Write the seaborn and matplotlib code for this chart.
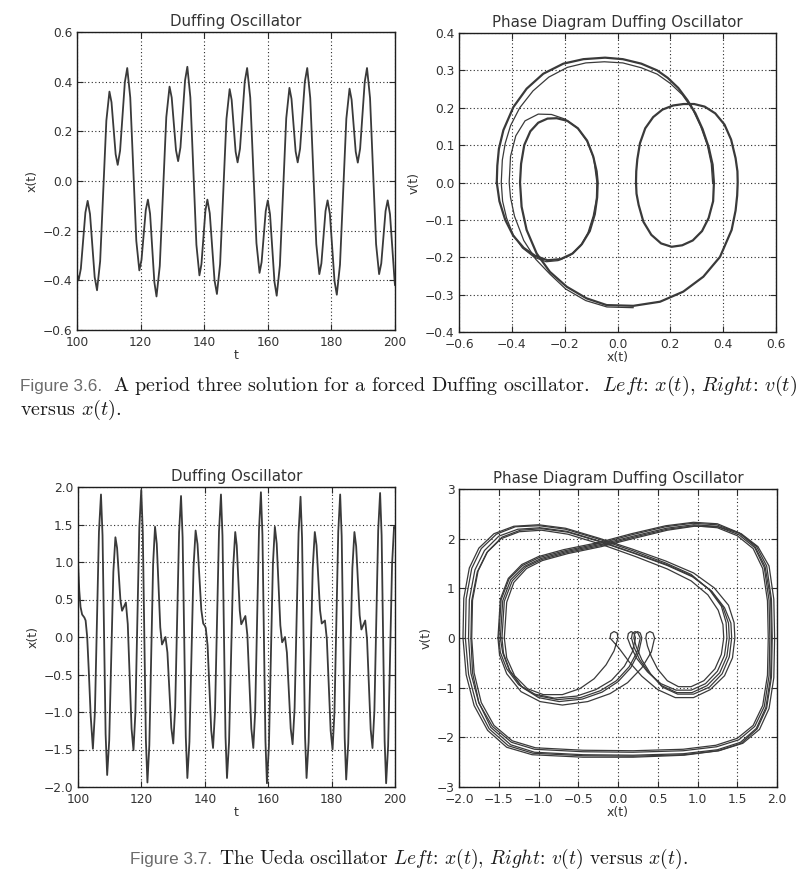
import matplotlib
matplotlib.use("Agg")
import matplotlib.pyplot as plt
import matplotlib.ticker as mticker
import numpy as np
import pandas as pd
import seaborn as sns

# ---------------- data ----------------
# Fig 3.6 left: x(t) of the period-three Duffing solution, (t, x) pairs
duff_tx = [
    (100.0, -0.375), (100.5, -0.40), (101.21, -0.353), (101.93, -0.24), (102.64, -0.127),
    (103.35, -0.08), (104.09, -0.133), (104.83, -0.26), (105.56, -0.387),
    (106.3, -0.44), (107.28, -0.323), (108.25, -0.04), (109.23, 0.243),
    (110.2, 0.36), (110.85, 0.317), (111.5, 0.2125), (112.15, 0.108),
    (112.8, 0.065), (113.55, 0.122), (114.3, 0.26), (115.05, 0.398),
    (115.8, 0.455), (116.75, 0.336), (117.7, 0.0475), (118.65, -0.241),
    (119.6, -0.36), (120.28, -0.318), (120.95, -0.2175), (121.63, -0.117),
    (122.3, -0.075), (122.98, -0.132), (123.65, -0.27), (124.33, -0.408),
    (125.0, -0.465), (126.03, -0.342), (127.05, -0.0425), (128.08, 0.257),
    (129.1, 0.38), (129.78, 0.336), (130.45, 0.23), (131.13, 0.124),
    (131.8, 0.08), (132.53, 0.135), (133.25, 0.27), (133.98, 0.405),
    (134.7, 0.46), (135.65, 0.337), (136.6, 0.04), (137.55, -0.257),
    (138.5, -0.38), (139.13, -0.335), (139.75, -0.2275), (140.38, -0.12),
    (141.0, -0.075), (141.75, -0.13), (142.5, -0.265), (143.25, -0.40),
    (144.0, -0.455), (145.0, -0.335), (146.0, -0.0425), (147.0, 0.25),
    (148.0, 0.37), (148.63, 0.327), (149.25, 0.2225), (149.88, 0.118),
    (150.5, 0.075), (151.25, 0.13), (152.0, 0.265), (152.75, 0.40),
    (153.5, 0.455), (154.48, 0.335), (155.45, 0.0425), (156.43, -0.25),
    (157.4, -0.37), (158.05, -0.327), (158.7, -0.224), (159.35, -0.121),
    (160.0, -0.078), (160.7, -0.134), (161.4, -0.27), (162.1, -0.406),
    (162.8, -0.462), (163.8, -0.34), (164.8, -0.0435), (165.8, 0.253),
    (166.8, 0.375), (167.45, 0.331), (168.1, 0.225), (168.75, 0.119),
    (169.4, 0.075), (170.15, 0.13), (170.9, 0.265), (171.65, 0.40),
    (172.4, 0.455), (173.35, 0.334), (174.3, 0.04), (175.25, -0.254),
    (176.2, -0.375), (176.85, -0.332), (177.5, -0.2265), (178.15, -0.121),
    (178.8, -0.078), (179.53, -0.133), (180.25, -0.268), (180.98, -0.403),
    (181.7, -0.458), (182.7, -0.337), (183.7, -0.043), (184.7, 0.251),
    (185.7, 0.372), (186.35, 0.328), (187.0, 0.223), (187.65, 0.118),
    (188.3, 0.074), (189.03, 0.13), (189.75, 0.2645), (190.48, 0.399),
    (191.2, 0.455), (192.15, 0.334), (193.1, 0.04), (194.05, -0.254),
    (195.0, -0.375), (195.68, -0.332), (196.35, -0.2265), (197.03, -0.121),
    (197.7, -0.078), (198.43, -0.134), (199.15, -0.269), (199.88, -0.404),
    (200.0, -0.42),
]

# Fig 3.6 right: v(t) versus x(t), one period-three orbit, (x, v) pairs
duff_orbit = [
    (-0.457, 0.0), (-0.455, 0.045), (-0.449, 0.09), (-0.432, 0.14), (-0.394, 0.202), (-0.344, 0.251),
    (-0.281, 0.291), (-0.205, 0.318), (-0.129, 0.330), (-0.047, 0.334), (0.02, 0.330),
    (0.09, 0.318), (0.15, 0.30), (0.19, 0.28), (0.23, 0.253), (0.265, 0.22),
    (0.295, 0.185), (0.322, 0.143), (0.345, 0.095), (0.36, 0.048), (0.365, 0.0),
    (0.362, -0.05), (0.345, -0.095), (0.32, -0.13), (0.285, -0.155), (0.245, -0.168),
    (0.205, -0.172), (0.165, -0.163), (0.128, -0.14), (0.098, -0.105), (0.08, -0.06),
    (0.072, -0.03), (0.07, 0.0),
    (0.071, 0.03), (0.075, 0.062), (0.085, 0.105), (0.105, 0.145), (0.135, 0.175), (0.17, 0.195),
    (0.21, 0.206), (0.25, 0.21), (0.29, 0.21), (0.33, 0.203), (0.37, 0.185),
    (0.405, 0.155), (0.43, 0.115), (0.447, 0.065), (0.454, 0.03), (0.455, 0.0),
    (0.453, -0.035), (0.447, -0.075), (0.432, -0.127), (0.388, -0.199), (0.325, -0.252), (0.249, -0.292),
    (0.161, -0.319), (0.06, -0.33), (-0.041, -0.328), (-0.117, -0.31), (-0.192, -0.279),
    (-0.256, -0.239), (-0.306, -0.19), (-0.344, -0.127), (-0.363, -0.065), (-0.369, 0.0),
    (-0.365, 0.05), (-0.353, 0.1), (-0.33, 0.137), (-0.30, 0.16), (-0.265, 0.171), (-0.23, 0.172),
    (-0.19, 0.165), (-0.15, 0.145), (-0.115, 0.112), (-0.092, 0.07), (-0.079, 0.03),
    (-0.075, 0.0),
    (-0.077, -0.04), (-0.086, -0.085), (-0.105, -0.13), (-0.135, -0.165), (-0.17, -0.19),
    (-0.215, -0.205), (-0.265, -0.208), (-0.31, -0.197), (-0.355, -0.175), (-0.395, -0.142),
    (-0.425, -0.1), (-0.447, -0.05), (-0.457, 0.0),
]
# transient strands of the same phase plot
duff_transient = [
    (0.06, -0.335), (-0.04, -0.333), (-0.12, -0.316), (-0.196, -0.285), (-0.256, -0.245),
    (-0.31, -0.205), (-0.355, -0.155), (-0.39, -0.09), (-0.405, -0.04), (-0.41, 0.0),
    (-0.405, 0.07), (-0.385, 0.125), (-0.35, 0.165), (-0.30, 0.183), (-0.25, 0.182),
    (-0.20, 0.17), (-0.15, 0.145), (-0.115, 0.11), (-0.09, 0.065), (-0.078, 0.0),
    (-0.08, -0.045), (-0.092, -0.09), (-0.112, -0.135), (-0.14, -0.17), (-0.18, -0.195),
    (-0.225, -0.209), (-0.27, -0.212), (-0.315, -0.2), (-0.36, -0.175), (-0.395, -0.14),
    (-0.42, -0.095), (-0.435, -0.05), (-0.44, 0.0),
    (-0.436, 0.06), (-0.425, 0.105), (-0.405, 0.152), (-0.37, 0.2), (-0.32, 0.245), (-0.26, 0.282),
    (-0.19, 0.308), (-0.12, 0.32), (-0.05, 0.323), (0.02, 0.32), (0.09, 0.307),
    (0.15, 0.29), (0.2, 0.265), (0.245, 0.235), (0.285, 0.195), (0.315, 0.15),
    (0.34, 0.1), (0.355, 0.05), (0.36, 0.0),
]

# Fig 3.7 left: x(t) of the Ueda oscillator, (t, x) pairs
ueda_tx = [
    (100.0, 1.0), (100.4, 0.62), (100.8, 0.40), (101.3, 0.30), (102.0, 0.26),
    (102.4, 0.22), (102.9, 0.0), (103.4, -0.45), (104.0, -1.05), (104.7, -1.49),
    (105.34, -0.995), (105.98, 0.205), (106.61, 1.404), (107.25, 1.90), (107.74, 1.354),
    (108.23, 0.03), (108.71, -1.294), (109.2, -1.84), (109.85, -1.377), (110.5, -0.255),
    (111.15, 0.867), (111.8, 1.33), (112.33, 1.187), (112.85, 0.84), (113.38, 0.493),
    (113.9, 0.35), (114.5, 0.405), (115.1, 0.46), (115.7, 0.172), (116.3, -0.525),
    (116.9, -1.222), (117.5, -1.51),
    (118.11, -1.003), (118.73, 0.225), (119.34, 1.453), (119.95, 1.96), (120.44, 1.391),
    (120.93, 0.01), (121.41, -1.371), (121.9, -1.94), (122.5, -1.442), (123.1, -0.235),
    (123.7, 0.972), (124.3, 1.47), (124.85, 1.241), (125.4, 0.685), (125.95, 0.129),
    (126.5, -0.10), (127.05, -0.05), (127.6, 0.0), (128.21, -0.207), (128.83, -0.71),
    (129.44, -1.213), (130.05, -1.42),
    (130.66, -0.938), (131.28, 0.23), (131.89, 1.398), (132.5, 1.88), (133.0, 1.331),
    (133.5, 0.0), (134.0, -1.331), (134.5, -1.88), (135.15, -1.398), (135.8, -0.23),
    (136.45, 0.938), (137.1, 1.42), (137.7, 1.239), (138.3, 0.80), (138.9, 0.361),
    (139.5, 0.18), (140.0, 0.15), (140.3, 0.12), (140.88, -0.114), (141.45, -0.68),
    (142.03, -1.246), (142.6, -1.48),
    (143.23, -0.987), (143.85, 0.21), (144.48, 1.406), (145.1, 1.90), (145.58, 1.348),
    (146.05, 0.01), (146.53, -1.328), (147.0, -1.88), (147.65, -1.401), (148.3, -0.24),
    (148.95, 0.921), (149.6, 1.40), (150.08, 1.22), (150.55, 0.785), (151.03, 0.35),
    (151.5, 0.17), (152.15, 0.225), (152.8, 0.28), (153.43, 0.023), (154.05, -0.60),
    (154.68, -1.223), (155.3, -1.48),
    (155.9, -0.982), (156.5, 0.225), (157.1, 1.432), (157.7, 1.93), (158.18, 1.364),
    (158.65, -0.01), (159.13, -1.384), (159.6, -1.95), (160.23, -1.451), (160.85, -0.24),
    (161.48, 0.971), (162.1, 1.47), (162.68, 1.245), (163.25, 0.70), (163.83, 0.155),
    (164.4, -0.07), (164.85, -0.035), (165.3, 0.0), (165.9, -0.209), (166.5, -0.715),
    (167.1, -1.221), (167.7, -1.43),
    (168.33, -0.948), (168.95, 0.22), (169.58, 1.388), (170.2, 1.87), (170.68, 1.322),
    (171.15, -0.005), (171.63, -1.332), (172.1, -1.88), (172.75, -1.401), (173.4, -0.24),
    (174.05, 0.921), (174.7, 1.40), (175.25, 1.222), (175.8, 0.79), (176.35, 0.358),
    (176.9, 0.18), (177.4, 0.20), (177.9, 0.22), (178.5, -0.031), (179.1, -0.64),
    (179.7, -1.249), (180.3, -1.50),
    (180.9, -1.004), (181.5, 0.20), (182.1, 1.404), (182.7, 1.90), (183.18, 1.345),
    (183.65, 0.0), (184.13, -1.345), (184.6, -1.90), (185.25, -1.418), (185.9, -0.25),
    (186.55, 0.918), (187.2, 1.40), (187.75, 1.21), (188.3, 0.75), (188.85, 0.29),
    (189.4, 0.10), (190.0, 0.16), (190.6, 0.22), (191.18, -0.03), (191.75, -0.63),
    (192.33, -1.232), (192.9, -1.48),
    (193.5, -0.984), (194.1, 0.22), (194.7, 1.424), (195.3, 1.92), (195.78, 1.355),
    (196.25, -0.015), (196.73, -1.385), (197.2, -1.95), (197.83, -1.451), (198.45, -0.24),
    (199.08, 0.971), (199.7, 1.47), (200.0, 1.45),
]

# Fig 3.7 right: v(t) versus x(t), five passes of the attractor, (x, v) pairs
ueda_pass_a = [
    (-1.48, 0.0), (-1.45, 0.75), (-1.35, 1.17), (-1.18, 1.44), (-0.97, 1.60), (-0.65, 1.74),
    (-0.23, 1.88), (0.19, 2.05), (0.61, 2.21), (0.95, 2.28), (1.24, 2.25), (1.52, 2.08),
    (1.72, 1.82), (1.84, 1.42), (1.90, 0.76), (1.91, 0.0),
    (1.90, -0.76), (1.84, -1.38), (1.72, -1.78), (1.52, -2.05), (1.24, -2.19), (0.82, -2.27),
    (0.19, -2.30), (-0.44, -2.29), (-1.05, -2.24), (-1.34, -2.10), (-1.58, -1.78),
    (-1.75, -1.31), (-1.85, -0.71), (-1.88, 0.0),
    (-1.87, 0.77), (-1.80, 1.37), (-1.68, 1.76), (-1.50, 2.05), (-1.26, 2.19), (-0.98, 2.22),
    (-0.65, 2.15), (-0.23, 1.95), (0.19, 1.72), (0.61, 1.48), (0.93, 1.25), (1.17, 0.95),
    (1.32, 0.62), (1.39, 0.30), (1.40, 0.0),
    (1.37, -0.37), (1.28, -0.70), (1.12, -0.96), (0.93, -1.10), (0.74, -1.10), (0.55, -0.96),
    (0.39, -0.70), (0.27, -0.43), (0.20, -0.18), (0.17, 0.0),
    (0.18, 0.09), (0.215, 0.13), (0.25, 0.10), (0.28, 0.0),
    (0.24, -0.28), (0.14, -0.58), (-0.02, -0.86), (-0.22, -1.06), (-0.47, -1.20),
    (-0.76, -1.24), (-1.02, -1.16), (-1.22, -0.97), (-1.37, -0.64), (-1.45, -0.30), (-1.48, 0.0),
]
ueda_pass_b = [
    (-1.51, 0.0), (-1.48, 0.78), (-1.38, 1.20), (-1.21, 1.48), (-1.00, 1.64), (-0.68, 1.78),
    (-0.25, 1.92), (0.17, 2.10), (0.60, 2.26), (0.95, 2.33), (1.25, 2.30), (1.52, 2.12),
    (1.72, 1.85), (1.85, 1.44), (1.92, 0.78), (1.93, 0.0),
    (1.92, -0.78), (1.86, -1.40), (1.74, -1.82), (1.54, -2.10), (1.25, -2.25), (0.82, -2.33),
    (0.19, -2.36), (-0.44, -2.35), (-1.05, -2.30), (-1.35, -2.15), (-1.60, -1.80),
    (-1.75, -1.30), (-1.83, -0.70), (-1.85, 0.0),
    (-1.84, 0.75), (-1.77, 1.33), (-1.65, 1.72), (-1.47, 2.00), (-1.24, 2.14), (-0.96, 2.17),
    (-0.63, 2.09), (-0.20, 1.88), (0.22, 1.64), (0.62, 1.39), (0.92, 1.15), (1.13, 0.87),
    (1.26, 0.56), (1.32, 0.27), (1.33, 0.0),
    (1.30, -0.33), (1.22, -0.62), (1.08, -0.86), (0.92, -0.98), (0.76, -0.98), (0.62, -0.86),
    (0.50, -0.63), (0.42, -0.38), (0.37, -0.16), (0.35, 0.0),
    (0.36, 0.09), (0.40, 0.13), (0.44, 0.10), (0.46, 0.0),
    (0.42, -0.28), (0.30, -0.60), (0.12, -0.90), (-0.10, -1.12), (-0.38, -1.28),
    (-0.70, -1.35), (-0.98, -1.28), (-1.22, -1.08), (-1.40, -0.72), (-1.49, -0.34), (-1.51, 0.0),
]
ueda_pass_c = [
    (-1.43, 0.0), (-1.40, 0.72), (-1.31, 1.12), (-1.15, 1.40), (-0.95, 1.56), (-0.63, 1.70),
    (-0.21, 1.84), (0.21, 2.01), (0.62, 2.17), (0.96, 2.25), (1.26, 2.24), (1.55, 2.10),
    (1.76, 1.84), (1.90, 1.45), (1.96, 0.78), (1.97, 0.0),
    (1.96, -0.80), (1.90, -1.42), (1.78, -1.84), (1.57, -2.12), (1.27, -2.27), (0.83, -2.36),
    (0.19, -2.40), (-0.44, -2.40), (-1.08, -2.35), (-1.40, -2.20), (-1.64, -1.86),
    (-1.81, -1.36), (-1.91, -0.74), (-1.95, 0.0),
    (-1.94, 0.80), (-1.87, 1.41), (-1.75, 1.81), (-1.56, 2.10), (-1.31, 2.25), (-1.00, 2.28),
    (-0.66, 2.21), (-0.24, 2.01), (0.18, 1.79), (0.60, 1.55), (0.95, 1.31), (1.21, 1.01),
    (1.39, 0.66), (1.46, 0.31), (1.47, 0.0),
    (1.44, -0.40), (1.34, -0.76), (1.16, -1.04), (0.95, -1.20), (0.72, -1.20), (0.50, -1.04),
    (0.30, -0.77), (0.14, -0.48), (0.01, -0.20), (-0.10, 0.0),
    (-0.09, 0.09), (-0.05, 0.13), (-0.01, 0.10), (0.0, 0.0),
    (-0.05, -0.26), (-0.15, -0.54), (-0.30, -0.82), (-0.48, -1.02), (-0.70, -1.14),
    (-0.94, -1.14), (-1.14, -1.02), (-1.30, -0.76), (-1.40, -0.40), (-1.43, 0.0),
]
ueda_pass_d = [
    (-1.46, 0.0), (-1.43, 0.74), (-1.33, 1.15), (-1.16, 1.43), (-0.96, 1.58), (-0.64, 1.72),
    (-0.22, 1.86), (0.20, 2.03), (0.62, 2.19), (0.96, 2.26), (1.25, 2.22), (1.50, 2.06),
    (1.70, 1.80), (1.82, 1.40), (1.88, 0.75), (1.89, 0.0),
    (1.88, -0.75), (1.82, -1.36), (1.70, -1.76), (1.50, -2.02), (1.23, -2.16), (0.82, -2.24),
    (0.19, -2.27), (-0.44, -2.26), (-1.04, -2.21), (-1.33, -2.07), (-1.56, -1.76),
    (-1.72, -1.30), (-1.81, -0.70), (-1.84, 0.0),
    (-1.83, 0.76), (-1.76, 1.35), (-1.64, 1.74), (-1.46, 2.03), (-1.23, 2.17), (-0.96, 2.20),
    (-0.63, 2.13), (-0.21, 1.93), (0.21, 1.70), (0.62, 1.46), (0.94, 1.23), (1.18, 0.94),
    (1.34, 0.61), (1.42, 0.30), (1.43, 0.0),
    (1.40, -0.38), (1.31, -0.72), (1.15, -0.99), (0.95, -1.13), (0.75, -1.13), (0.56, -0.99),
    (0.41, -0.72), (0.30, -0.44), (0.23, -0.18), (0.20, 0.0),
    (0.21, 0.09), (0.245, 0.13), (0.28, 0.10), (0.30, 0.0),
    (0.26, -0.29), (0.16, -0.60), (0.0, -0.88), (-0.20, -1.09), (-0.45, -1.23),
    (-0.74, -1.28), (-1.00, -1.20), (-1.20, -1.00), (-1.36, -0.66), (-1.44, -0.31), (-1.46, 0.0),
]
ueda_pass_e = [
    (-1.50, 0.0), (-1.47, 0.77), (-1.37, 1.19), (-1.20, 1.46), (-0.99, 1.62), (-0.66, 1.76),
    (-0.24, 1.90), (0.18, 2.08), (0.60, 2.24), (0.94, 2.31), (1.24, 2.28), (1.53, 2.11),
    (1.74, 1.85), (1.87, 1.45), (1.93, 0.78), (1.94, 0.0),
    (1.93, -0.79), (1.87, -1.41), (1.75, -1.83), (1.55, -2.12), (1.26, -2.27), (0.83, -2.35),
    (0.19, -2.38), (-0.44, -2.37), (-1.07, -2.32), (-1.38, -2.17), (-1.62, -1.83),
    (-1.78, -1.34), (-1.88, -0.73), (-1.92, 0.0),
    (-1.91, 0.79), (-1.84, 1.40), (-1.72, 1.80), (-1.53, 2.09), (-1.29, 2.24), (-0.99, 2.26),
    (-0.66, 2.19), (-0.24, 1.99), (0.18, 1.76), (0.60, 1.51), (0.92, 1.28), (1.15, 0.97),
    (1.30, 0.64), (1.36, 0.31), (1.37, 0.0),
    (1.34, -0.35), (1.25, -0.67), (1.10, -0.92), (0.92, -1.05), (0.73, -1.05), (0.54, -0.92),
    (0.37, -0.68), (0.24, -0.42), (0.16, -0.17), (0.12, 0.0),
    (0.13, 0.09), (0.165, 0.13), (0.20, 0.10), (0.22, 0.0),
    (0.18, -0.28), (0.08, -0.57), (-0.08, -0.85), (-0.28, -1.04), (-0.52, -1.17),
    (-0.80, -1.21), (-1.05, -1.13), (-1.25, -0.94), (-1.40, -0.62), (-1.48, -0.29), (-1.50, 0.0),
]

# axes ticks
tl_xticks = [100, 120, 140, 160, 180, 200]
tl_yticks = [-0.6, -0.4, -0.2, 0.0, 0.2, 0.4, 0.6]
tr_xticks = [-0.6, -0.4, -0.2, 0.0, 0.2, 0.4, 0.6]
tr_yticks = [-0.4, -0.3, -0.2, -0.1, 0.0, 0.1, 0.2, 0.3, 0.4]
bl_yticks = [-2.0, -1.5, -1.0, -0.5, 0.0, 0.5, 1.0, 1.5, 2.0]
br_xticks = [-2.0, -1.5, -1.0, -0.5, 0.0, 0.5, 1.0, 1.5, 2.0]
br_yticks = [-3, -2, -1, 0, 1, 2, 3]

titles = ["Duffing Oscillator", "Phase Diagram Duffing Oscillator"]
cap1_head = "Figure 3.6."
cap1_body = r"A period three solution for a forced Duffing oscillator.  $\mathit{Left}$: $x(t)$, $\mathit{Right}$: $v(t)$"
cap1_line2 = r"versus $x(t)$."
cap2_head = "Figure 3.7."
cap2_body = r"The Ueda oscillator $\mathit{Left}$: $x(t)$, $\mathit{Right}$: $v(t)$ versus $x(t)$."

# ---------------- styling ----------------
sns.set_theme(style="white")
plt.rcParams.update({
    "font.family": ["DejaVu Sans"],
    "axes.edgecolor": "#1e1e1e",
    "axes.linewidth": 1.0,
    "xtick.direction": "in", "ytick.direction": "in",
    "xtick.top": True, "ytick.right": True,
    "xtick.bottom": True, "ytick.left": True,
    "xtick.major.size": 4, "ytick.major.size": 4,
    "xtick.major.width": 0.8, "ytick.major.width": 0.8,
    "xtick.color": "#2a2a2a", "ytick.color": "#2a2a2a",
    "xtick.labelcolor": "#333333", "ytick.labelcolor": "#333333",
    "xtick.labelsize": 8.8, "ytick.labelsize": 8.8,
    "xtick.major.pad": 4.2, "ytick.major.pad": 3.2,
    "axes.titlesize": 10.8, "axes.labelsize": 9.0,
    "axes.labelcolor": "#333333", "axes.titlecolor": "#333333",
    "mathtext.fontset": "cm",
    "axes.unicode_minus": True,
})

LINE = "#3a3a3a"
W, H = 806, 884
fig = plt.figure(figsize=(W / 100, H / 100), dpi=100)


def box(l, t, r, b):
    return [l / W, 1 - b / H, (r - l) / W, (b - t) / H]


def fmt(decimals):
    def f(v, pos):
        s = f"{v:.{decimals}f}"
        return s.replace("-", "\u2212")
    return mticker.FuncFormatter(f)


def style(ax, xt, yt, xdec, ydec, xlab, ylab, title):
    ax.set_xticks(xt)
    ax.set_yticks(yt)
    ax.xaxis.set_major_formatter(fmt(xdec))
    ax.yaxis.set_major_formatter(fmt(ydec))
    ax.set_xlim(xt[0], xt[-1])
    ax.set_ylim(yt[0], yt[-1])
    ax.grid(True, linestyle=(0, (1, 2.2)), color="#2a2a2a", linewidth=0.8)
    ax.set_xlabel(xlab, labelpad=0)
    ax.set_ylabel(ylab, labelpad=3)
    ax.set_title(title, pad=4)
    for s in ax.spines.values():
        s.set_visible(True)
        s.set_color("#1e1e1e")


def df_of(pairs, a, b):
    return pd.DataFrame(pairs, columns=[a, b])


# top-left
ax1 = fig.add_axes(box(77, 32, 395, 330))
d = df_of(duff_tx, "t", "x")
sns.lineplot(data=d, x="t", y="x", ax=ax1, color=LINE, lw=1.3, sort=False, estimator=None)
style(ax1, tl_xticks, tl_yticks, 0, 1, "t", "x(t)", titles[0])

# top-right
ax2 = fig.add_axes(box(459, 33, 776, 332))
d = df_of(duff_orbit, "x", "v")
sns.lineplot(data=d, x="x", y="v", ax=ax2, color=LINE, lw=1.6, sort=False, estimator=None)
d = df_of(duff_transient, "x", "v")
sns.lineplot(data=d, x="x", y="v", ax=ax2, color=LINE, lw=0.9, sort=False, estimator=None)
style(ax2, tr_xticks, tr_yticks, 1, 1, "x(t)", "v(t)", titles[1])

# bottom-left
ax3 = fig.add_axes(box(78, 487, 395, 787))
d = df_of(ueda_tx, "t", "x")
sns.lineplot(data=d, x="t", y="x", ax=ax3, color=LINE, lw=1.3, sort=False, estimator=None)
style(ax3, tl_xticks, bl_yticks, 0, 1, "t", "x(t)", titles[0])

# bottom-right
ax4 = fig.add_axes(box(459, 489, 777, 787))
for p in (ueda_pass_a, ueda_pass_b, ueda_pass_c, ueda_pass_d, ueda_pass_e):
    d = df_of(p, "x", "v")
    sns.lineplot(data=d, x="x", y="v", ax=ax4, color=LINE, lw=0.9, sort=False, estimator=None)
style(ax4, br_xticks, br_yticks, 1, 0, "x(t)", "v(t)", titles[1])

# ---------------- captions ----------------
HEAD = dict(family=["Liberation Sans Narrow", "Liberation Sans", "DejaVu Sans"], color="#6b6b6b", fontsize=12.3)
BODY = dict(family=["cmr10", "DejaVu Serif"], color="#1a1a1a", fontsize=14.5)

renderer = fig.canvas.get_renderer()


def caption(y_px, head, body, x_px=None, center=None, gap=9, size=None):
    th = fig.text(0, 1 - y_px / H, head, va="baseline", ha="left", **HEAD)
    kw = dict(BODY)
    if size is not None:
        kw["fontsize"] = size
    tb = fig.text(0, 1 - y_px / H, body, va="baseline", ha="left", **kw)
    wh = th.get_window_extent(renderer).width
    wb = tb.get_window_extent(renderer).width
    if center is not None:
        x0 = center - (wh + gap + wb) / 2
    else:
        x0 = x_px
    th.set_x(x0 / W)
    tb.set_x((x0 + wh + gap) / W)


caption(391, cap1_head, cap1_body, x_px=20, gap=11)
fig.text(20 / W, 1 - 415 / H, cap1_line2, va="baseline", ha="left", **BODY)
caption(864, cap2_head, cap2_body, center=409, gap=7, size=14.1)

fig.savefig("out.png", dpi=100)
